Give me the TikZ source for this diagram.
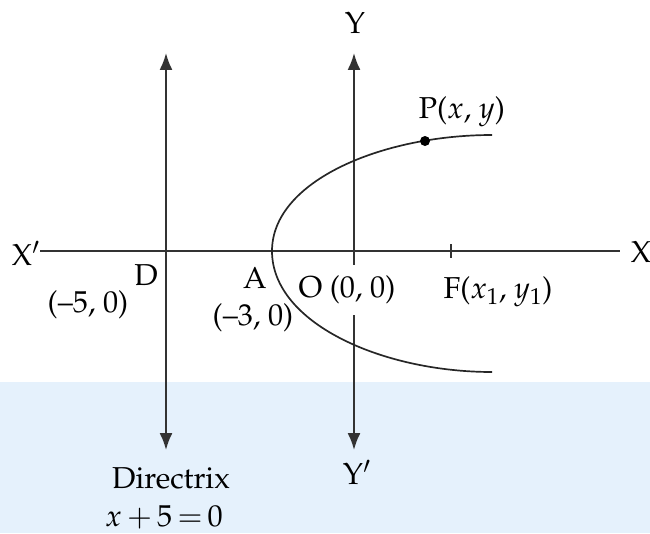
\documentclass[tikz,border=0pt]{standalone}
\usepackage[T1]{fontenc}
\usepackage{mathpazo}
\usetikzlibrary{arrows.meta}
\definecolor{bandblue}{RGB}{229,241,252}
\begin{document}
\begin{tikzpicture}[x=0.025cm,y=-0.025cm,>={Latex[length=0.42cm,width=0.32cm]},
	  lbl/.style={font=\fontsize{21.5}{25}\selectfont,inner sep=1pt},
	  axis/.style={draw=black!80,line width=1.3pt}]
	  \useasboundingbox (0,0) rectangle (650,533);
	  \fill[bandblue] (0,382) rectangle (650,533);
	  \coordinate (xl) at (40,251);
	  \coordinate (xr) at (620,251);
	  \coordinate (dt) at (166,53);
	  \coordinate (db) at (166,450);
	  \coordinate (yt) at (354,53);
	  \coordinate (yb) at (354,450);
	  \coordinate (ft) at (451,244);
	  \coordinate (fb) at (451,258);
	  \coordinate (vx) at (272,251);
	  \coordinate (pe) at (492,135);
	  \coordinate (qe) at (492,372);
	  \coordinate (p) at (425,141);
	  \draw[axis] (xl) -- (xr);
	  \draw[axis,<->] (dt) -- (db);
	  \draw[axis,<->] (yt) -- (yb);
	  \draw[axis] (ft) -- (fb);
	  \node[lbl] (y) at (355,23) {Y};
	  \node[lbl] (yp) at (357,472) {Y$'$};
	  \node[lbl] (xp) at (26,253) {X$'$};
	  \node[lbl] (x) at (641,252) {X};
	  \node[lbl] (d) at (146,275) {D};
	  \node[lbl] (dc) at (88,305) {(--5, 0)};
	  \node[lbl] (a) at (255,278) {A};
	  \node[lbl] (ac) at (253,318) {(--3, 0)};
	  \node[lbl,fill=white,inner ysep=8pt] (o) at (347,290) {O (0, 0)};
	  \node[lbl] (f) at (498,292) {F($x_1$, $y_1$)};
	  \node[lbl] (pl) at (462,112) {P($x$, $y$)};
	  \node[lbl] (dir) at (171,478) {Directrix};
	  \node[lbl] (eq) at (164,517) {$x\,{+}\,5\,{=}\,0$};
	  \draw[line width=1.2pt,black!85] (pe) .. controls (382,135) and (272,181) .. (vx)
	    .. controls (272,323) and (382,372) .. (qe);
	  \fill[black] (p) circle (5);
	\end{tikzpicture}
\end{document}
